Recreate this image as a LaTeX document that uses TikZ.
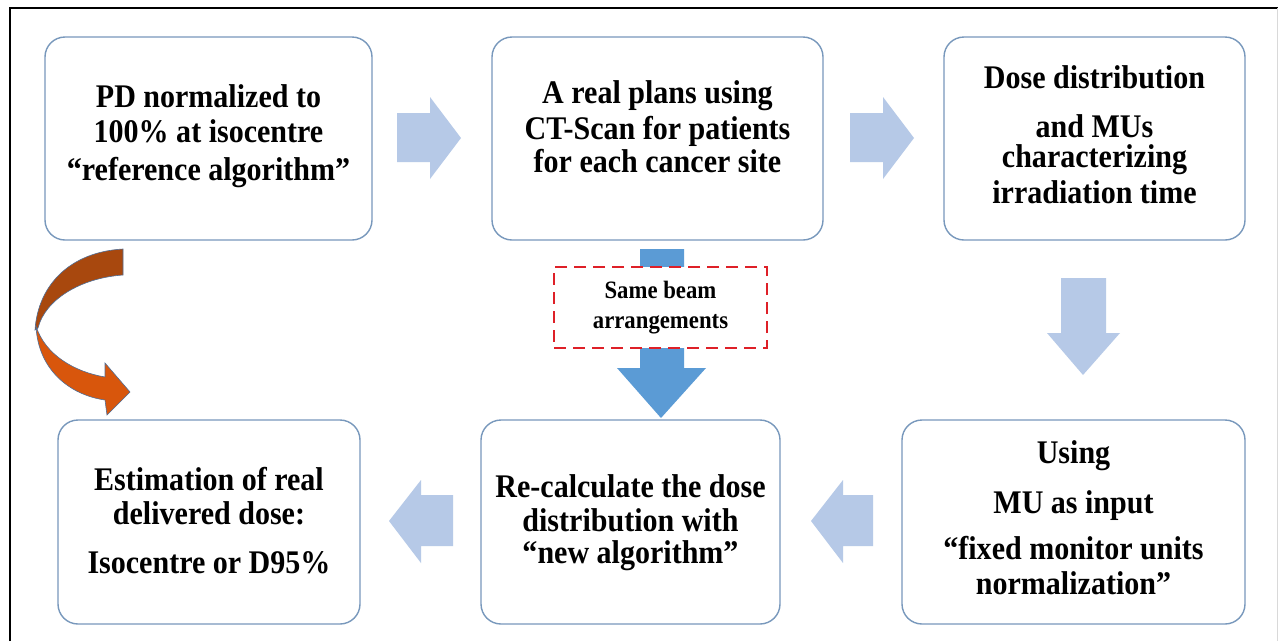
\documentclass[tikz,border=0pt]{standalone}
\usepackage{fontspec}
\setmainfont{Liberation Serif}
\newfontfamily\boxfont[FakeStretch=0.91]{Liberation Serif}
\definecolor{boxline}{RGB}{120,152,188}
\definecolor{lightarrow}{RGB}{182,201,231}
\definecolor{bluearrow}{RGB}{91,155,213}
\definecolor{dashred}{RGB}{222,32,40}
\definecolor{darkorange}{RGB}{168,72,14}
\definecolor{brightorange}{RGB}{216,86,12}
\definecolor{ribbonline}{RGB}{80,110,150}
\newcommand{\firststrut}{\rule{0pt}{24pt}}
\tikzset{
  stepbox/.style={draw=boxline, line width=1.4pt, fill=white, rounded corners=20pt, inner sep=0pt},
  txt/.style={align=center, inner sep=0pt, anchor=north, font=\boxfont\fontsize{33}{30}\selectfont\bfseries},
  flatarrow/.style={fill=lightarrow, draw=none},
}
\begin{document}
\begin{tikzpicture}[x=1pt,y=-1pt]
\useasboundingbox (0,0) rectangle (1278,641);
\fill[white] (0,0) rectangle (1278,641);
% frame
\draw[black, line width=2pt] (10,641) -- (10,8) -- (1278,8);
\draw[black!15, line width=1pt] (1277,8) -- (1277,641);

% boxes
\node[stepbox, minimum width=327pt, minimum height=203pt] (b1) at (208.5,138.5) {};
\node[stepbox, minimum width=331pt, minimum height=203pt] (b2) at (657.5,138.5) {};
\node[stepbox, minimum width=301pt, minimum height=203pt] (b3) at (1094.5,138.5) {};
\node[stepbox, minimum width=302pt, minimum height=204pt] (b4) at (209,522) {};
\node[stepbox, minimum width=299pt, minimum height=204pt] (b5) at (630.5,522) {};
\node[stepbox, minimum width=343pt, minimum height=204pt] (b6) at (1073.5,522) {};

% texts
\node[txt] (t1) at (208.5,83) {\firststrut PD normalized to\\[5pt]100\% at isocentre\\[8pt]“reference algorithm”};
\node[txt] (t2) at (657.5,79) {\firststrut A real plans using\\[5pt]CT-Scan for patients\\[2pt]for each cancer site};
\node[txt] (t3) at (1094.5,64) {\firststrut Dose distribution\\[19pt]and MUs\\characterizing\\[5pt]irradiation time};
\node[txt] (t4) at (209,466) {\firststrut Estimation of real\\[4pt]delivered dose:\\[19pt]Isocentre or D95\%};
\node[txt] (t5) at (630.5,473) {\firststrut Re-calculate the dose\\[4pt]distribution with\\[2pt]“new algorithm”};
\node[txt] (t6) at (1073.5,439) {\firststrut Using\\[19pt]MU as input\\[15pt]“fixed monitor units\\[5pt]normalization”};

% light block arrows
\fill[flatarrow] (397,113) -- (430,113) -- (430,97) -- (461,138) -- (430,179) -- (430,162) -- (397,162) -- cycle;
\fill[flatarrow] (850,113) -- (883,113) -- (883,97) -- (914,138) -- (883,179) -- (883,162) -- (850,162) -- cycle;
\fill[flatarrow] (1061,278) -- (1106,278) -- (1106,333) -- (1120,333) -- (1083,375) -- (1047,333) -- (1061,333) -- cycle;
\fill[flatarrow] (873,495) -- (873,546) -- (843,546) -- (843,563) -- (811,521) -- (843,480) -- (843,495) -- cycle;
\fill[flatarrow] (453,495) -- (453,546) -- (421,546) -- (421,563) -- (389,521) -- (421,480) -- (421,495) -- cycle;

% blue arrow with dashed label box
\fill[bluearrow] (640,249) -- (684,249) -- (684,368) -- (706,368) -- (661,418) -- (617,368) -- (640,368) -- cycle;
\node[draw=dashred, fill=white, line width=1.8pt, dash pattern=on 12pt off 7pt,
      minimum width=213pt, minimum height=81pt, inner sep=0pt, align=center,
      font=\boxfont\fontsize{25}{30}\selectfont\bfseries] (same) at (660.5,307.5) {Same beam\\arrangements};

% curved ribbon arrow
\filldraw[fill=darkorange, draw=ribbonline, line width=0.6pt]
  (123,249) .. controls (70,252) and (38,285) .. (35,330)
  -- (38,328) .. controls (45,300) and (80,278) .. (123,275) -- cycle;
\filldraw[fill=brightorange, draw=ribbonline, line width=0.6pt]
  (36,326) .. controls (38,370) and (70,395) .. (105,400)
  -- (107,415) -- (130,392) -- (105,363) -- (105,377)
  .. controls (75,372) and (45,355) .. (36,326) -- cycle;
\end{tikzpicture}
\end{document}
